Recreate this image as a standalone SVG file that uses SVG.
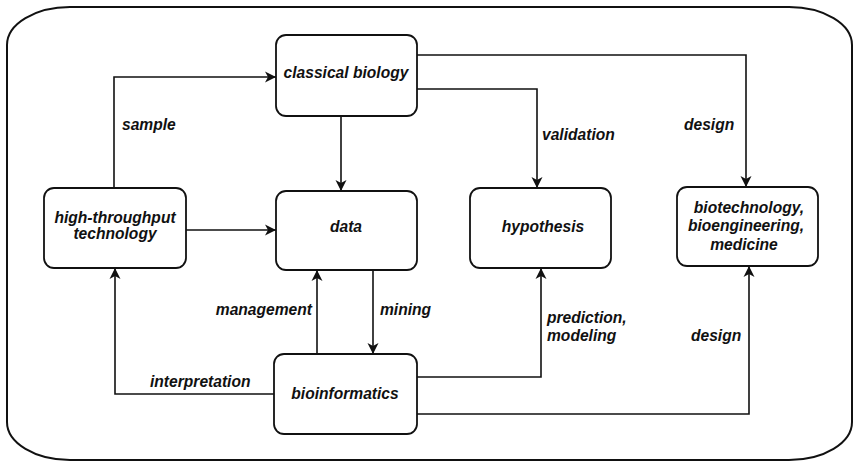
<svg xmlns="http://www.w3.org/2000/svg" width="854" height="462" viewBox="0 0 854 462">
<defs>
<marker id="ah" markerWidth="12" markerHeight="12" refX="11" refY="6" orient="auto" markerUnits="userSpaceOnUse">
<path d="M0,0.5 L11,6 L0,11.5 L3,6 Z" fill="#111"/>
</marker>
</defs>
<style>
.box{fill:#fff;stroke:#111;stroke-width:1.8}
.t{font-family:"Liberation Sans",Arial,sans-serif;font-size:15.6px;font-weight:bold;font-style:italic;fill:#111}
.c{text-anchor:middle}
.ln{fill:none;stroke:#111;stroke-width:1.6;marker-end:url(#ah)}
</style>
<rect width="854" height="462" fill="#fff"/>
<rect id="frame" x="7" y="7" width="845" height="453" rx="63" ry="38" fill="none" stroke="#111" stroke-width="2"/>
<g id="connectors">
<path class="ln" d="M114,188 V77 H276"/>
<path class="ln" d="M341,116 V191"/>
<path class="ln" d="M186,230 H276"/>
<path class="ln" d="M417,55 H746 V187"/>
<path class="ln" d="M417,89 H537 V188"/>
<path class="ln" d="M373,270 V354"/>
<path class="ln" d="M317,354 V270"/>
<path class="ln" d="M274,394 H115 V268"/>
<path class="ln" d="M417,377 H541 V268"/>
<path class="ln" d="M417,414 H749 V266"/>
<text class="t" x="122" y="130">sample</text>
<text class="t" x="542" y="140">validation</text>
<text class="t" x="684" y="130">design</text>
<text class="t" x="312" y="315" text-anchor="end">management</text>
<text class="t" x="380" y="315">mining</text>
<text class="t" x="150" y="387">interpretation</text>
<text class="t" x="547" y="323">prediction,</text>
<text class="t" x="547" y="341">modeling</text>
<text class="t" x="691" y="341">design</text>
</g>
<g id="classical">
<rect class="box" x="276" y="35" width="141" height="81" rx="10"/>
<text class="t c" x="346" y="78">classical biology</text>
</g>
<g id="data">
<rect class="box" x="276" y="191" width="141" height="79" rx="10"/>
<text class="t c" x="346" y="232">data</text>
</g>
<g id="htt">
<rect class="box" x="44" y="188" width="142" height="80" rx="10"/>
<text class="t c" x="115" y="223">high-throughput</text>
<text class="t c" x="115" y="239">technology</text>
</g>
<g id="hypothesis">
<rect class="box" x="470" y="188" width="141" height="80" rx="10"/>
<text class="t c" x="543" y="232">hypothesis</text>
</g>
<g id="biotech">
<rect class="box" x="677" y="187" width="141" height="79" rx="10"/>
<text class="t c" x="749" y="213">biotechnology,</text>
<text class="t c" x="746" y="231">bioengineering,</text>
<text class="t c" x="744" y="250">medicine</text>
</g>
<g id="bioinformatics">
<rect class="box" x="274" y="354" width="143" height="80" rx="10"/>
<text class="t c" x="345" y="399">bioinformatics</text>
</g>
</svg>
